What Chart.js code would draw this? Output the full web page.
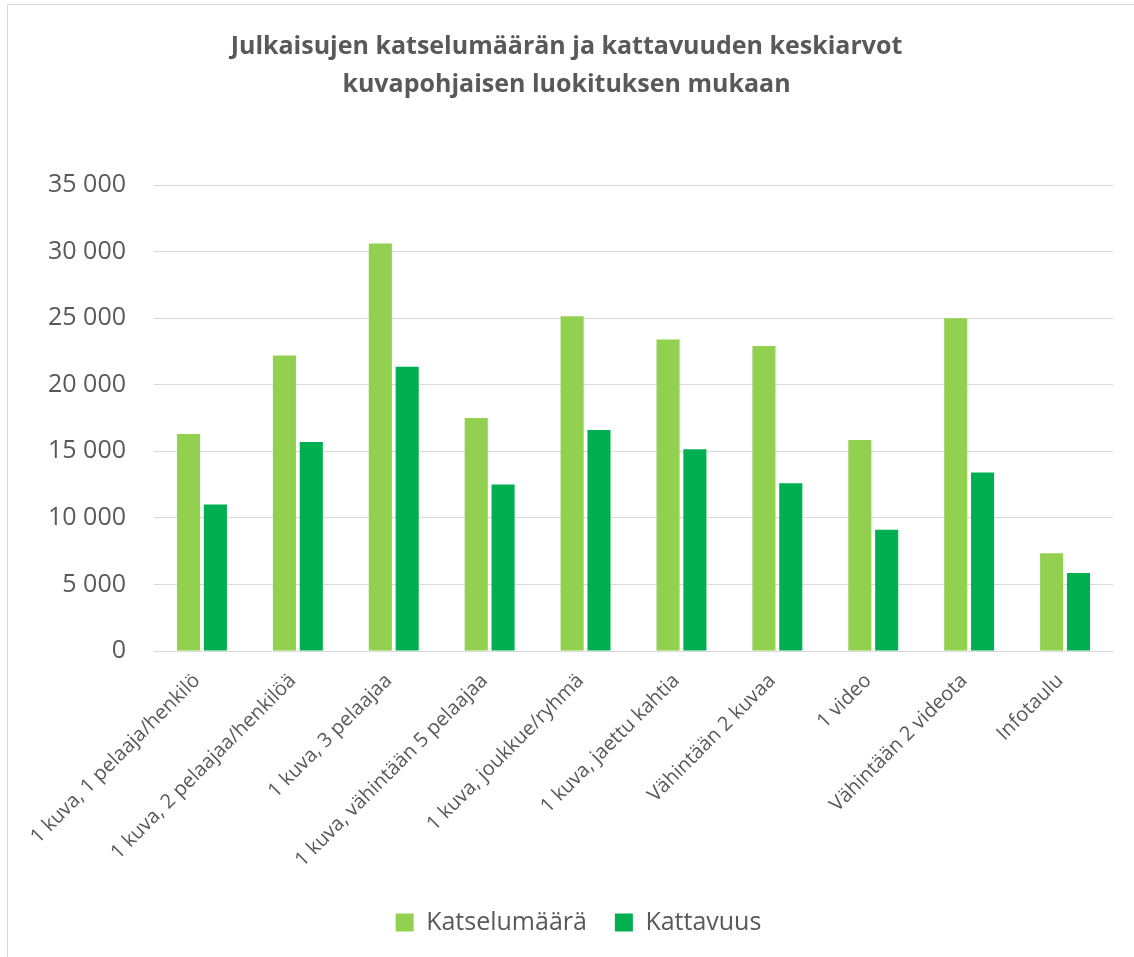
<!DOCTYPE html>
<html>
<head>
<meta charset="utf-8">
<script src="https://cdn.jsdelivr.net/npm/chart.js@4"></script>
<style>
html,body{margin:0;padding:0;background:#fff;}
#wrap{width:1134px;height:957px;position:relative;}
</style>
</head>
<body>
<div id="wrap"><canvas id="c" width="1134" height="957"></canvas></div>
<script>
const categories = ["1 kuva, 1 pelaaja/henkilö","1 kuva, 2 pelaajaa/henkilöä","1 kuva, 3 pelaajaa","1 kuva, vähintään 5 pelaajaa","1 kuva, joukkue/ryhmä","1 kuva, jaettu kahtia","Vähintään 2 kuvaa","1 video","Vähintään 2 videota","Infotaulu"];
const katselumaara = [16300,22200,30600,17500,25150,23400,22900,15850,25000,7350];
const kattavuus = [11000,15700,21350,12500,16600,15150,12600,9100,13400,5850];
const titleLines = ["Julkaisujen katselumäärän ja kattavuuden keskiarvot","kuvapohjaisen luokituksen mukaan"];
const seriesNames = ["Katselumäärä","Kattavuus"];

const FONT = '"Open Sans", sans-serif';
const GRAY = '#595959';

const borderPlugin = {
  id:'border',
  beforeDraw(chart){
    const ctx = chart.ctx;
    ctx.save();
    ctx.fillStyle='#fff';
    ctx.fillRect(0,0,chart.width,chart.height);
    ctx.strokeStyle='#D9D9D9';
    ctx.lineWidth=1;
    ctx.strokeRect(7.5,4.5,1400,1400);
    ctx.restore();
  },
  afterLayout(chart){
    if(chart.legend){chart.legend.left+=12;chart.legend.right+=12;}
  }
};

new Chart(document.getElementById('c'),{
  type:'bar',
  data:{
    labels:categories,
    datasets:[
      {label:seriesNames[0],data:katselumaara,backgroundColor:'#92D050',barPercentage:0.86,categoryPercentage:0.56},
      {label:seriesNames[1],data:kattavuus,backgroundColor:'#00B050',barPercentage:0.86,categoryPercentage:0.56}
    ]
  },
  options:{
    responsive:false,
    animation:false,
    layout:{padding:{left:20,right:21,top:0,bottom:12}},
    plugins:{
      title:{display:true,text:titleLines,color:GRAY,font:{family:FONT,size:25,weight:'bold',lineHeight:1.52},padding:{top:28,bottom:81}},
      legend:{position:'bottom',labels:{color:GRAY,font:{family:FONT,size:25},boxWidth:18,boxHeight:18,padding:28}},
      tooltip:{enabled:false}
    },
    scales:{
      y:{
        min:0,max:35000,
        ticks:{stepSize:5000,color:GRAY,font:{family:FONT,size:25},padding:28,
          callback:v=>String(v).replace(/\B(?=(\d{3})+(?!\d))/g,' ')},
        grid:{color:'#D9D9D9',lineWidth:1,drawTicks:false},
        border:{display:false},
        afterFit(s){s.width=134;}
      },
      x:{
        ticks:{color:GRAY,font:{family:FONT,size:20},minRotation:45,maxRotation:45,padding:18,labelOffset:-5},
        grid:{display:false,drawTicks:false},
        border:{color:'#D9D9D9',width:1},
        afterFit(s){s.height=231;}
      }
    }
  },
  plugins:[borderPlugin]
});
</script>
</body>
</html>
